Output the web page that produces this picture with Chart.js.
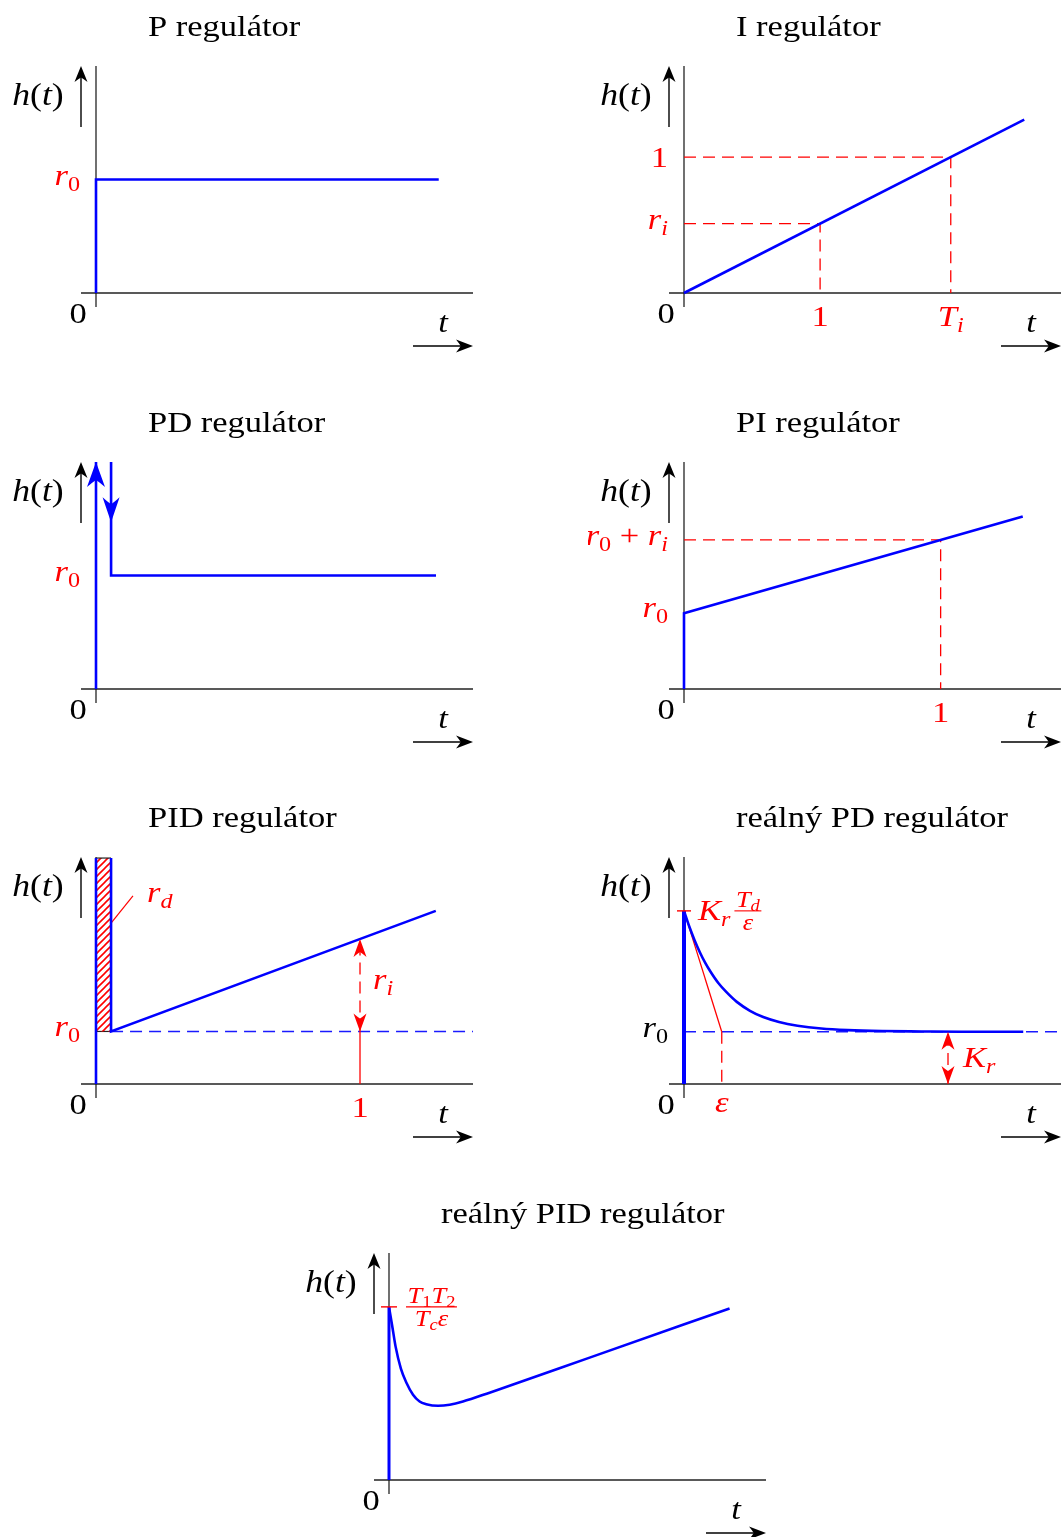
<!DOCTYPE html>
<html><head><meta charset="utf-8">
<script src="https://cdn.jsdelivr.net/npm/chart.js@4.4.1/dist/chart.umd.min.js"></script>
<style>
html,body{margin:0;padding:0;background:#fff;overflow:hidden}
#wrap{position:relative;width:1061px;height:1537px;overflow:hidden;background:#fff}
canvas{position:absolute}
</style></head><body><div id="wrap"></div>
<script>
// ---------- DATA ----------
const titles = ['P regulátor','I regulátor','PD regulátor','PI regulátor','PID regulátor','reálný PD regulátor','reálný PID regulátor'];
const axisLabels = { y: 'h(t)', x: 't', zero: '0' };

// P regulator: step to r0
const pTime  = [0, 0, 10];
const pValue = [0, 1, 1];
const pR0 = 1;

// I regulator: ramp, ri = h(1), Ti where h = 1
const iTime  = [0, 2.5];
const iValue = [0, 1.275];
const iRi = 0.51;
const iTi = 1.96;

// PD regulator: impulse + step
const pdSpikeTime  = [0, 0];
const pdSpikeValue = [0, 2];
const pdTime  = [0.44, 0.44, 9.92];
const pdValue = [2, 1, 1];
const pdR0 = 1;
const pdDownArrow = 1.47;

// PI regulator
const piTime  = [0, 0, 1.32];
const piValue = [0, 1, 2.28];
const piR0 = 1;
const piRi = 0.97;

// PID regulator
const pidSpikeTime  = [0, 0];
const pidSpikeValue = [0, 4.3];
const pidTime  = [0.057, 0.057, 1.287];
const pidValue = [4.3, 1, 3.295];
const pidR0 = 1;
const pidAtOne = 2.76;
const pidBoxTime = [0, 0.057];
const pidBoxTop = [4.3, 4.3];
const pidBoxBottom = [1, 1];
const pidLeaderTime = [0.057, 0.14];
const pidLeaderValue = [3.06, 3.58];

// real PD regulator
const rpdTime  = [0, 0.02, 0.04, 0.06, 0.08, 0.10, 0.13, 0.16, 0.20, 0.25, 0.30, 0.36, 0.43, 0.52, 0.62, 0.75, 0.90, 1.05, 1.285];
const rpdValue = [3.31, 3.01, 2.75, 2.52, 2.32, 2.15, 1.93, 1.76, 1.57, 1.40, 1.28, 1.186, 1.115, 1.06, 1.03, 1.012, 1.005, 1.0, 1.0];
const rpdPeak = 3.31;
const rpdR0 = 1;
const rpdEps = 0.143;
const rpdKrAt = 1;

// real PID regulator
const rpidTime  = [0, 0.012, 0.025, 0.045, 0.066, 0.091, 0.116, 0.141, 0.186, 0.23, 0.28, 0.381, 0.76, 1.29];
const rpidValue = [3.31, 2.95, 2.55, 2.13, 1.86, 1.63, 1.50, 1.45, 1.42, 1.44, 1.50, 1.67, 2.34, 3.28];
const rpidPeak = 3.31;

// ---------- STYLE / HELPERS ----------
const BLUE = '#0000ff', RED = '#ff0000', BLACK = '#000000';
const FONT = '"Liberation Serif","Times New Roman",serif';
const SX = 1.15;

function setFont(ctx, size, italic){ ctx.font = (italic ? 'italic ' : '') + size + 'px ' + FONT; }
function runsWidth(ctx, runs, size){
  let w = 0;
  for (const [t, k] of runs){
    const sub = k[0] === 's', it = k.endsWith('i');
    setFont(ctx, sub ? size*0.7 : size, it);
    w += ctx.measureText(t).width * SX;
  }
  return w;
}
function drawRuns(ctx, runs, x, y, size, color, align){
  const w = runsWidth(ctx, runs, size);
  let cx = align === 'right' ? x - w : align === 'center' ? x - w/2 : x;
  ctx.save();
  ctx.fillStyle = color; ctx.textBaseline = 'alphabetic'; ctx.textAlign = 'left';
  for (const [t, k] of runs){
    const sub = k[0] === 's', it = k.endsWith('i');
    const s = sub ? size*0.7 : size;
    setFont(ctx, s, it);
    const tw = ctx.measureText(t).width;
    ctx.save(); ctx.translate(cx, y + (sub ? size*0.2 : 0)); ctx.scale(SX, 1); ctx.fillText(t, 0, 0); ctx.restore();
    cx += tw * SX;
  }
  ctx.restore();
  return w;
}
function seg(ctx, x1, y1, x2, y2, color, w, dash){
  ctx.save(); ctx.strokeStyle = color; ctx.lineWidth = w; ctx.setLineDash(dash || []);
  ctx.beginPath(); ctx.moveTo(x1, y1); ctx.lineTo(x2, y2); ctx.stroke(); ctx.restore();
}
function arrowHead(ctx, x, y, ang, len, hw, color){
  ctx.save(); ctx.translate(x, y); ctx.rotate(ang); ctx.fillStyle = color;
  ctx.beginPath();
  ctx.moveTo(0, 0);
  ctx.quadraticCurveTo(-len*0.45, -hw*0.45, -len, -hw);
  ctx.quadraticCurveTo(-len*0.8, -hw*0.35, -len*0.72, 0);
  ctx.quadraticCurveTo(-len*0.8, hw*0.35, -len, hw);
  ctx.quadraticCurveTo(-len*0.45, hw*0.45, 0, 0);
  ctx.closePath(); ctx.fill(); ctx.restore();
}
function frac(ctx, num, den, x, yBar, size, color){
  const wn = runsWidth(ctx, num, size), wd = runsWidth(ctx, den, size);
  const w = Math.max(wn, wd) + 3;
  seg(ctx, x, yBar, x + w, yBar, color, 1.1);
  drawRuns(ctx, num, x + w/2, yBar - 4, size, color, 'center');
  drawRuns(ctx, den, x + w/2, yBar + 19, size, color, 'center');
}
const R0 = [['r','i'],['0','sr']];
const RI = [['r','i'],['i','si']];
const UP = -Math.PI/2, DOWN = Math.PI/2;

function hatchPattern(){
  const s = 7, c = document.createElement('canvas'); c.width = s; c.height = s;
  const g = c.getContext('2d'); g.strokeStyle = RED; g.lineWidth = 1.6;
  g.beginPath(); g.moveTo(0, s); g.lineTo(s, 0); g.moveTo(-1, 1); g.lineTo(1, -1); g.moveTo(s-1, s+1); g.lineTo(s+1, s-1); g.stroke();
  return g.createPattern(c, 'repeat');
}

const pts = (ts, vs) => ts.map((t, i) => ({x: t, y: vs[i]}));
const line = (ts, vs, o) => Object.assign({data: pts(ts, vs), borderColor: BLUE, borderWidth: 2.6, pointRadius: 0,
  fill: false, tension: 0, clip: false, borderCapStyle: 'butt', borderJoinStyle: 'miter'}, o || {});
const dashRed = {borderColor: RED, borderWidth: 1.3, borderDash: [12, 7]};
const dashBlue = {borderColor: '#1a1aff', borderWidth: 1.4, borderDash: [12, 7]};

// ---------- PANELS ----------
const panels = [
  { ox: 96, oy: 293, xMax: 11, yMax: 2, title: titles[0],
    datasets: [ line(pTime, pValue) ],
    extra(ctx, X, Y, ox, oy){ drawRuns(ctx, R0, ox-16, Y(pR0)+5, 30, RED, 'right'); } },

  { ox: 684, oy: 293, xMax: 2.77, yMax: 1.67, title: titles[1],
    datasets: [ line(iTime, iValue),
      line([0, iTi, iTi], [1, 1, 0], dashRed),
      line([0, 1, 1], [iRi, iRi, 0], dashRed) ],
    extra(ctx, X, Y, ox, oy){
      drawRuns(ctx, [['1','r']], ox-16, Y(1)+10, 30, RED, 'right');
      drawRuns(ctx, RI, ox-16, Y(iRi)+5, 30, RED, 'right');
      drawRuns(ctx, [['1','r']], X(1), oy+33, 30, RED, 'center');
      drawRuns(ctx, [['T','i'],['i','si']], X(iTi), oy+33, 30, RED, 'center');
    } },

  { ox: 96, oy: 689, xMax: 11, yMax: 2, title: titles[2],
    datasets: [ line(pdSpikeTime, pdSpikeValue), line(pdTime, pdValue) ],
    extra(ctx, X, Y, ox, oy){
      arrowHead(ctx, X(0), Y(pdSpikeValue[1]), UP, 25, 9, BLUE);
      arrowHead(ctx, X(pdTime[0]), Y(pdDownArrow), DOWN, 25, 8.5, BLUE);
      drawRuns(ctx, R0, ox-16, Y(pdR0)+5, 30, RED, 'right');
    } },

  { ox: 684, oy: 689, xMax: 1.469, yMax: 3.0, title: titles[3],
    datasets: [ line(piTime, piValue),
      line([0, 1, 1], [piR0+piRi, piR0+piRi, 0], dashRed) ],
    extra(ctx, X, Y, ox, oy){
      drawRuns(ctx, [['r','i'],['0','sr'],[' + ','r'],['r','i'],['i','si']], ox-16, Y(piR0+piRi)+5, 30, RED, 'right');
      drawRuns(ctx, R0, ox-16, Y(piR0)+4, 30, RED, 'right');
      drawRuns(ctx, [['1','r']], X(1), oy+33, 30, RED, 'center');
    } },

  { ox: 96, oy: 1084, xMax: 1.428, yMax: 4.32, title: titles[4],
    datasets: [ line(pidSpikeTime, pidSpikeValue), line(pidTime, pidValue),
      line([1, 1], [0, pidR0], {borderColor: RED, borderWidth: 1.3}),
      line([1, 1], [pidR0, pidAtOne], dashRed),
      line(pidLeaderTime, pidLeaderValue, {borderColor: RED, borderWidth: 1.2}),
      line([pidTime[0], 1.428], [pidR0, pidR0], dashBlue),
      line(pidBoxTime, pidBoxTop, {borderColor: '#222', borderWidth: 1.2, fill: {value: pidR0}, backgroundColor: hatchPattern()}),
      line(pidBoxTime, pidBoxBottom, {borderColor: '#222', borderWidth: 1.2}) ],
    extra(ctx, X, Y, ox, oy){
      arrowHead(ctx, X(1), Y(pidAtOne), UP, 18, 6.5, RED);
      arrowHead(ctx, X(1), Y(pidR0), DOWN, 18, 6.5, RED);
      drawRuns(ctx, R0, ox-16, Y(pidR0)+5, 30, RED, 'right');
      drawRuns(ctx, [['r','i'],['d','si']], X(pidLeaderTime[1])+14, Y(pidLeaderValue[1])+6, 30, RED, 'left');
      drawRuns(ctx, RI, X(1)+13, (Y(pidR0)+Y(pidAtOne))/2+4, 30, RED, 'left');
      drawRuns(ctx, [['1','r']], X(1), oy+33, 30, RED, 'center');
    } },

  { ox: 684, oy: 1084, xMax: 1.428, yMax: 4.34, title: titles[5],
    datasets: [ line([0, 0], [0, rpdPeak], {borderWidth: 4}),
      line(rpdTime, rpdValue, {cubicInterpolationMode: 'monotone'}),
      line([0, rpdEps], [rpdPeak, rpdR0], {borderColor: RED, borderWidth: 1.3}),
      line([rpdEps, rpdEps], [rpdR0, 0], dashRed),
      line([rpdKrAt, rpdKrAt], [0, rpdR0], dashRed),
      line([0, 1.428], [rpdR0, rpdR0], dashBlue) ],
    extra(ctx, X, Y, ox, oy){
      seg(ctx, ox-7, Y(rpdPeak), ox+7, Y(rpdPeak), RED, 1.4);
      arrowHead(ctx, X(rpdKrAt), Y(rpdR0), UP, 18, 6.5, RED);
      arrowHead(ctx, X(rpdKrAt), Y(0), DOWN, 18, 6.5, RED);
      const w = drawRuns(ctx, [['K','i'],['r','si']], ox+14, Y(rpdPeak)+9, 30, RED, 'left');
      frac(ctx, [['T','i'],['d','si']], [['ε','i']], ox+14+w+4, Y(rpdPeak), 23, RED);
      drawRuns(ctx, R0, ox-16, Y(rpdR0)+5, 30, BLACK, 'right');
      drawRuns(ctx, [['ε','i']], X(rpdEps), oy+28, 30, RED, 'center');
      drawRuns(ctx, [['K','i'],['r','si']], X(rpdKrAt)+15, (Y(rpdR0)+Y(0))/2+9, 30, RED, 'left');
    } },

  { ox: 389, oy: 1480, xMax: 1.428, yMax: 4.34, title: titles[6],
    datasets: [ line([0, 0], [0, rpidPeak], {borderWidth: 3}),
      line(rpidTime, rpidValue, {cubicInterpolationMode: 'monotone'}) ],
    extra(ctx, X, Y, ox, oy){
      seg(ctx, ox-8, Y(rpidPeak), ox+8, Y(rpidPeak), RED, 1.4);
      frac(ctx, [['T','i'],['1','sr'],['T','i'],['2','sr']], [['T','i'],['c','si'],['ε','i']], ox+17, Y(rpidPeak), 23, RED);
    } }
];

function decor(p){
  return {
    id: 'decor',
    beforeDatasetsDraw(chart){
      const ctx = chart.ctx, ox = chart.scales.x.getPixelForValue(0), oy = chart.scales.y.getPixelForValue(0);
      seg(ctx, ox-15, oy, chart.chartArea.right, oy, '#222', 1.4);
      seg(ctx, ox, oy+14, ox, chart.chartArea.top, '#111', 1.2);
    },
    afterDatasetsDraw(chart){
      const ctx = chart.ctx;
      const X = v => chart.scales.x.getPixelForValue(v), Y = v => chart.scales.y.getPixelForValue(v);
      const ox = X(0), oy = Y(0);
      // title
      drawRuns(ctx, [[p.title, 'r']], ox+52, oy-257, 30, BLACK, 'left');
      // y label + arrow
      drawRuns(ctx, [['h','i'],['(','r'],['t','i'],[')','r']], ox-58, oy-188, 31, BLACK, 'center');
      seg(ctx, ox-15, oy-166, ox-15, oy-216, BLACK, 1.4);
      arrowHead(ctx, ox-15, oy-227, UP, 16, 6.5, BLACK);
      // zero, t, arrow
      drawRuns(ctx, [[axisLabels.zero, 'r']], ox-18, oy+30, 30, BLACK, 'center');
      drawRuns(ctx, [[axisLabels.x, 'i']], ox+347, oy+39, 30, BLACK, 'center');
      seg(ctx, ox+317, oy+53, ox+366, oy+53, BLACK, 1.4);
      arrowHead(ctx, ox+377, oy+53, 0, 17, 6.5, BLACK);
      p.extra(ctx, X, Y, ox, oy);
    }
  };
}

const wrap = document.getElementById('wrap');
for (const p of panels){
  const c = document.createElement('canvas');
  c.width = 480; c.height = 360;
  c.style.left = (p.ox - 96) + 'px'; c.style.top = (p.oy - 293) + 'px';
  c.style.width = '480px'; c.style.height = '360px';
  wrap.appendChild(c);
  new Chart(c, {
    type: 'line',
    data: { datasets: p.datasets },
    options: {
      responsive: false, animation: false, devicePixelRatio: 1, events: [],
      layout: { padding: { left: 96, right: 7, top: 66, bottom: 67 } },
      plugins: { legend: { display: false }, tooltip: { enabled: false }, title: { display: false } },
      scales: {
        x: { type: 'linear', min: 0, max: p.xMax, display: false },
        y: { type: 'linear', min: 0, max: p.yMax, display: false }
      }
    },
    plugins: [decor(p)]
  });
}
</script></body></html>
